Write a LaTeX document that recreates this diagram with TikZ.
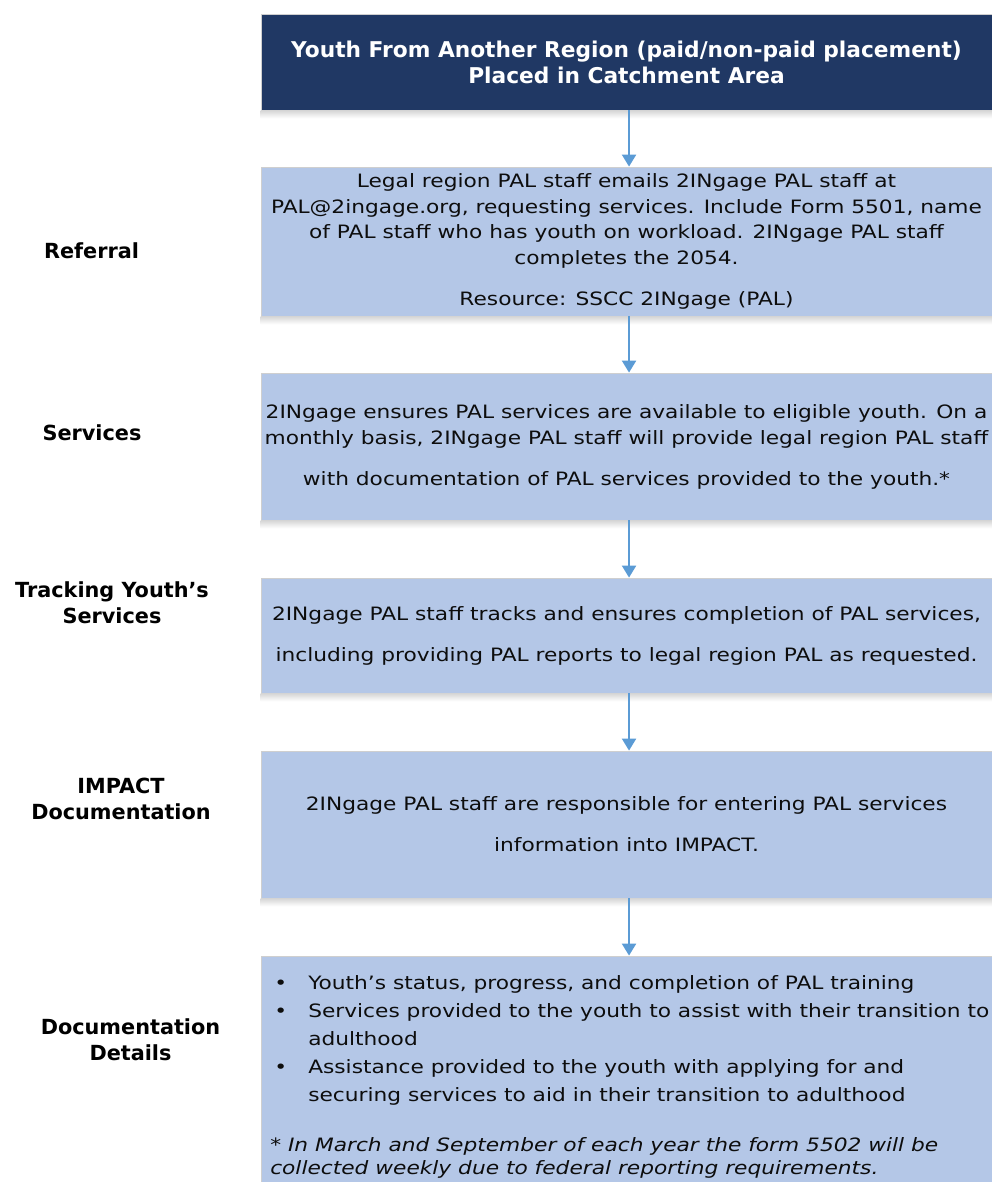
\documentclass[tikz,border=0pt]{standalone}
\usepackage{fontspec}
\setmainfont{DejaVu Sans}
\newfontfamily\bodyfont{DejaVu Sans}[FakeStretch=1.18]
\usetikzlibrary{arrows.meta}
\definecolor{navy}{HTML}{203864}
\definecolor{lblue}{HTML}{B4C7E7}
\definecolor{arrowblue}{HTML}{5B9BD5}
\definecolor{edgegray}{HTML}{CFCFCF}
\tikzset{
  stepbox/.style={draw=edgegray, line width=0.6pt, fill=lblue, inner sep=0pt,
    minimum width=548.25pt, align=center, text=black!95,
    font=\bodyfont\fontsize{13.8pt}{19.1pt}\selectfont},
  titlebox/.style={draw=edgegray, line width=0.6pt, fill=navy, inner sep=0pt,
    minimum width=548.25pt, minimum height=72pt, align=center, text=white,
    font=\bfseries\fontsize{16.3pt}{19.5pt}\selectfont},
  lbl/.style={font=\bfseries\fontsize{15.6pt}{19.5pt}\selectfont, align=center,
    inner sep=0pt, text=black},
  flow/.style={draw=arrowblue, line width=1.6pt, -{Triangle[width=10.5pt,length=9pt]}},
  softshadow/.style={top color=black!16, bottom color=white, draw=none},
  bodytext/.style={inner sep=0pt, align=left, text=black!95,
    font=\bodyfont\fontsize{13.8pt}{21pt}\selectfont}
}
\begin{document}
\begin{tikzpicture}[x=0.75pt,y=-0.75pt]
\useasboundingbox (0,0) rectangle (992,1182);

% boxes
\node[titlebox] (b1) at (626.5,62) {Youth From Another Region (paid/non-paid placement)\\Placed in Catchment Area};

\node[stepbox, minimum height=111.75pt] (b2) at (626.5,241.5)
  {Legal region PAL staff emails 2INgage PAL staff at\\
   PAL@2ingage.org, requesting services. Include Form 5501, name\\
   of PAL staff who has youth on workload. 2INgage PAL staff\\
   completes the 2054.\\[11.6pt]
   Resource: SSCC 2INgage (PAL)};

\node[stepbox, minimum height=110.25pt] (b3) at (626.5,446.5)
  {2INgage ensures PAL services are available to eligible youth. On a\\[0.4pt]
   monthly basis, 2INgage PAL staff will provide legal region PAL staff\\[11.65pt]
   with documentation of PAL services provided to the youth.*};

\node[stepbox, minimum height=86.25pt] (b4) at (626.5,635.5)
  {2INgage PAL staff tracks and ensures completion of PAL services,\\[11.65pt]
   including providing PAL reports to legal region PAL as requested.};

\node[stepbox, minimum height=110.25pt] (b5) at (626.5,824.5)
  {2INgage PAL staff are responsible for entering PAL services\\[11.65pt]
   information into IMPACT.};

\node[stepbox, minimum height=177pt] (b6) at (626.5,1074) {};
\node[bodytext, anchor=north west] (b6txt) at (270,975)
  {\makebox[28.5pt][l]{\hspace{3pt}•}Youth’s status, progress, and completion of PAL training\\
   \makebox[28.5pt][l]{\hspace{3pt}•}Services provided to the youth to assist with their transition to\\
   \hspace*{28.5pt}adulthood\\
   \makebox[28.5pt][l]{\hspace{3pt}•}Assistance provided to the youth with applying for and\\
   \hspace*{28.5pt}securing services to aid in their transition to adulthood\\[16.5pt]
   * \textit{In March and September of each year the form 5502 will be}\\[-3.75pt]
   \textit{collected weekly due to federal reporting requirements.}};

% shadows
\foreach \b in {b1,b2,b3,b4,b5}{
  \fill[softshadow] (\b.south west) rectangle ([yshift=-6pt]\b.south east);
}

% labels
\node[lbl] (l2) at (91.5,250.5) {Referral};
\node[lbl] (l3) at (92,433) {Services};
\node[lbl] (l4) at (112,603) {Tracking Youth’s\\Services};
\node[lbl] (l5) at (121,799) {IMPACT\\Documentation};
\node[lbl] (l6) at (130.5,1040) {Documentation\\Details};

% connectors
\draw[flow] ([xshift=1.9pt]b1.south) -- ([xshift=1.9pt]b2.north);
\draw[flow] ([xshift=1.9pt]b2.south) -- ([xshift=1.9pt]b3.north);
\draw[flow] ([xshift=1.9pt]b3.south) -- ([xshift=1.9pt]b4.north);
\draw[flow] ([xshift=1.9pt]b4.south) -- ([xshift=1.9pt]b5.north);
\draw[flow] ([xshift=1.9pt]b5.south) -- ([xshift=1.9pt]b6.north);
\end{tikzpicture}
\end{document}
